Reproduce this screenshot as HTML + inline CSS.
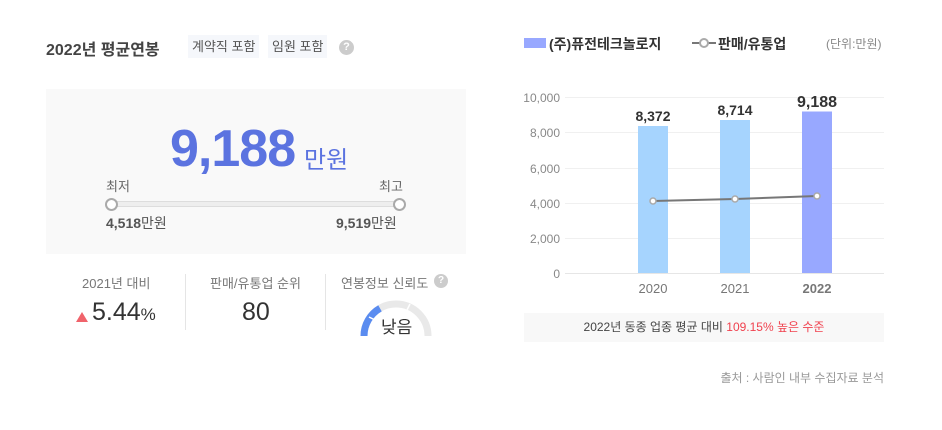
<!DOCTYPE html>
<html><head><meta charset="utf-8"><style>
body{margin:0;width:942px;height:430px;background:#fff;font-family:"Liberation Sans","Noto Sans CJK KR",sans-serif;position:relative;overflow:hidden;color:#333}
.a{position:absolute;white-space:nowrap}
.tag{background:#f5f7fb;color:#555;font-size:13px;padding:3px 4px;height:17px;line-height:17px}
</style></head><body>
<div class="a" style="left:46px;top:36px;font-size:16px;font-weight:bold;color:#444">2022년 평균연봉</div>
<div class="a tag" style="left:188px;top:35px">계약직 포함</div>
<div class="a tag" style="left:268px;top:35px">임원 포함</div>
<div class="a" style="left:339px;top:40px;width:15px;height:15px;border-radius:50%;background:#ccc;color:#fff;font-size:11px;font-weight:bold;text-align:center;line-height:15px">?</div>

<div class="a" style="left:46px;top:89px;width:420px;height:165px;background:#f9f9f9"></div>
<div class="a" style="left:170px;top:118px;font-size:52px;font-weight:bold;color:#5b73e0;letter-spacing:-1px;line-height:62px">9,188</div>
<div class="a" style="left:304px;top:140px;font-size:24px;color:#5b73e0">만원</div>
<div class="a" style="left:106px;top:176px;font-size:13px;color:#666">최저</div>
<div class="a" style="left:379px;top:176px;font-size:13px;color:#666">최고</div>
<div class="a" style="left:110px;top:201px;width:290px;height:6px;background:#eee;border:1px solid #ddd;border-radius:3px;box-sizing:border-box"></div>
<div class="a" style="left:105px;top:198px;width:9px;height:9px;border:2px solid #aaa;border-radius:50%;background:#fff"></div>
<div class="a" style="left:393px;top:198px;width:9px;height:9px;border:2px solid #aaa;border-radius:50%;background:#fff"></div>
<div class="a" style="left:106px;top:213px;font-size:14px;color:#555"><b>4,518</b>만원</div>
<div class="a" style="left:336px;top:213px;font-size:14px;color:#555"><b>9,519</b>만원</div>

<div class="a" style="left:82px;top:273px;font-size:13px;color:#777">2021년 대비</div>
<div class="a" style="left:76px;top:312px;width:0;height:0;border-left:6px solid transparent;border-right:6px solid transparent;border-bottom:10px solid #f0636b"></div>
<div class="a" style="left:92px;top:298px;font-size:25px;color:#333">5.44<span style="font-size:17px">%</span></div>
<div class="a" style="left:185px;top:274px;width:1px;height:56px;background:#e5e5e5"></div>
<div class="a" style="left:210px;top:273px;font-size:13px;color:#777">판매/유통업 순위</div>
<div class="a" style="left:242px;top:298px;font-size:25px;color:#333">80</div>
<div class="a" style="left:325px;top:274px;width:1px;height:56px;background:#e5e5e5"></div>
<div class="a" style="left:341px;top:273px;font-size:13px;color:#777">연봉정보 신뢰도</div>
<div class="a" style="left:434px;top:274px;width:14px;height:14px;border-radius:50%;background:#ccc;color:#fff;font-size:10px;font-weight:bold;text-align:center;line-height:14px">?</div>
<svg class="a" style="left:355px;top:295px" width="85" height="45">
<path d="M9 41 A32 32 0 0 1 73 41" fill="none" stroke="#e9e9e9" stroke-width="7"/>
<path d="M9 41 A32 32 0 0 1 25 13.3" fill="none" stroke="#5a8cf0" stroke-width="7"/>
<line x1="14" y1="22" x2="20" y2="25" stroke="#fff" stroke-width="1.5"/>
<line x1="55" y1="9" x2="52" y2="15" stroke="#fff" stroke-width="1.5"/>
</svg>
<div class="a" style="left:381px;top:313px;font-size:17px;color:#333">낮음</div>

<div class="a" style="left:524px;top:38px;width:22px;height:10px;background:#98a8ff"></div>
<div class="a" style="left:549px;top:34px;font-size:14px;font-weight:bold;color:#333">(주)퓨전테크놀로지</div>
<svg class="a" style="left:692px;top:37px" width="24" height="12"><line x1="0" y1="6" x2="24" y2="6" stroke="#777" stroke-width="2"/><circle cx="12" cy="6" r="4" fill="#fff" stroke="#aaa" stroke-width="2"/></svg>
<div class="a" style="left:718px;top:34px;font-size:14px;font-weight:bold;color:#333">판매/유통업</div>
<div class="a" style="left:826px;top:35px;font-size:12px;color:#888">(단위:만원)</div>

<svg class="a" style="left:0;top:0" width="942" height="300" font-family="Liberation Sans, sans-serif">
<g stroke="#f0f0f0" stroke-width="1">
<line x1="565" y1="97.5" x2="884" y2="97.5"/><line x1="565" y1="132.5" x2="884" y2="132.5"/><line x1="565" y1="168.5" x2="884" y2="168.5"/><line x1="565" y1="203.5" x2="884" y2="203.5"/><line x1="565" y1="238.5" x2="884" y2="238.5"/></g>
<line x1="565" y1="273.5" x2="884" y2="273.5" stroke="#e6e6e6"/>
<g font-size="12" fill="#888" text-anchor="end">
<text x="560" y="102">10,000</text><text x="560" y="137">8,000</text><text x="560" y="173">6,000</text><text x="560" y="208">4,000</text><text x="560" y="243">2,000</text><text x="560" y="278">0</text></g>
<rect x="638" y="126" width="30" height="147" fill="#a6d4fe"/>
<rect x="720" y="120" width="30" height="153" fill="#a6d4fe"/>
<rect x="802" y="111.5" width="30" height="161.5" fill="#98a8ff"/>
<g text-anchor="middle" font-weight="bold" fill="#333">
<text x="653" y="121" font-size="14">8,372</text><text x="735" y="115" font-size="14">8,714</text><text x="817" y="107" font-size="16">9,188</text></g>
<polyline points="653,201 735,199 817,196" fill="none" stroke="#777" stroke-width="2"/>
<g fill="#fff" stroke="#aaa" stroke-width="1.5"><circle cx="653" cy="201" r="3"/><circle cx="735" cy="199" r="3"/><circle cx="817" cy="196" r="3"/></g>
<g text-anchor="middle" font-size="13" fill="#777"><text x="653" y="293">2020</text><text x="735" y="293">2021</text><text x="817" y="293" font-weight="bold">2022</text></g>
</svg>
<div class="a" style="left:524px;top:313px;width:360px;height:29px;background:#f8f8f8;text-align:center;line-height:29px;font-size:12px;color:#444">2022년 동종 업종 평균 대비 <span style="color:#f0414e">109.15% 높은 수준</span></div>
<div class="a" style="right:58px;top:369px;font-size:12px;color:#999">출처 : 사람인 내부 수집자료 분석</div>
</body></html>
